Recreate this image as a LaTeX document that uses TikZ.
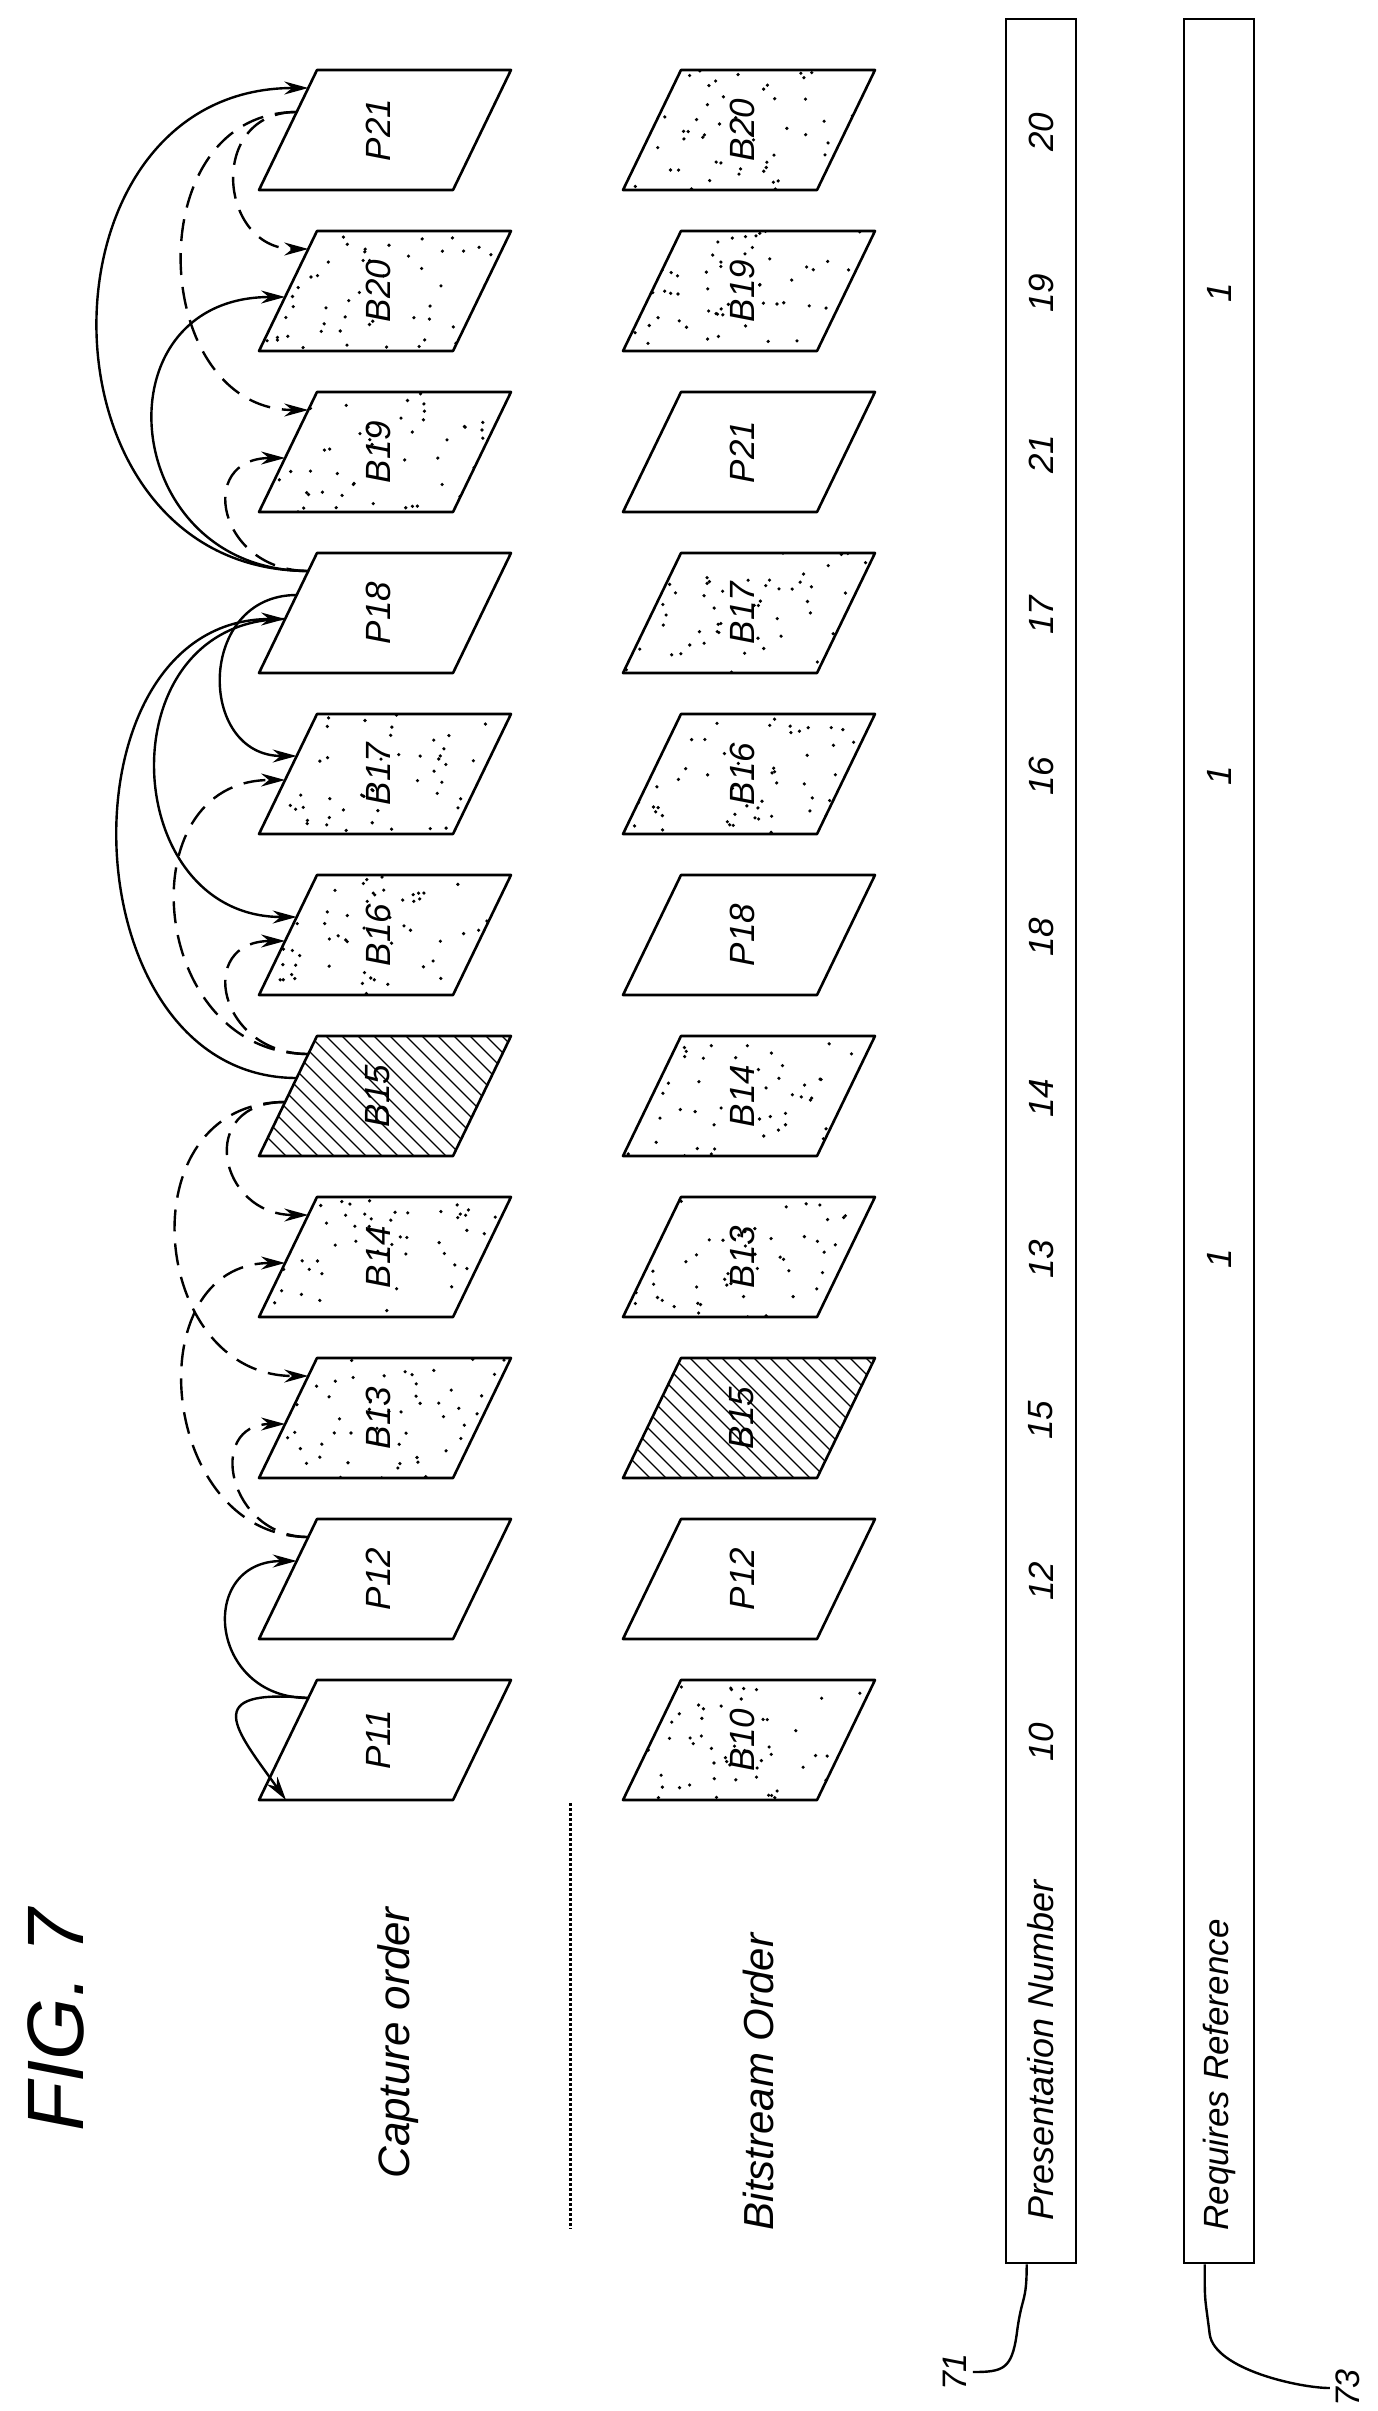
\documentclass[tikz,border=0pt]{standalone}
\usepackage{fontspec}
\setmainfont{Liberation Sans}
\usetikzlibrary{arrows.meta}
\begin{document}
\begin{tikzpicture}[x=1pt,y=-1pt,
  frm/.style={draw,line width=2.6pt,line join=round},
  lbl/.style={rotate=90,font=\fontsize{35}{37}\selectfont\itshape,inner sep=0pt},
  conn/.style={line width=2.4pt,-{Stealth[length=24pt,width=13pt]}},
  dconn/.style={conn,dash pattern=on 22pt off 12pt},
  boxs/.style={draw,line width=2.6pt}]
\useasboundingbox (0,0) rectangle (1378,2411);
\fill[white] (0,0) rectangle (1378,2411);
\pgfmathsetseed{7}
% frame macro: #1 name, #2 row, #3 x shift, #4 label, #5 kind (0 plain,1 stipple,2 hatch)
\newcommand\frm[5]{%
  \pgfmathsetmacro\T{70+161*#2}%
  \begin{scope}
  \clip (317+#3,\T) -- (511+#3,\T) -- (453+#3,\T+120) -- (259+#3,\T+120) -- cycle;
  \ifnum#5=1
    \foreach \k in {1,...,60}{\pgfmathsetmacro\rx{259+#3+252*rnd}\pgfmathsetmacro\ry{\T+120*rnd}
      \fill (\rx,\ry) circle (1.8pt);}
  \fi
  \ifnum#5=2
    \foreach \k in {-14,...,14}{\draw[line width=1.2pt] (380+#3+\k*16,\T-10) -- ++(150,150);}
  \fi
  \end{scope}
  \path[frm] (317+#3,\T) -- (511+#3,\T) -- (453+#3,\T+120) -- (259+#3,\T+120) -- cycle;
  \node[lbl] (#1) at (378+#3,\T+60) {#4};
  \coordinate (#1a) at (317+#3-58*0.15,\T+120*0.15);
  \coordinate (#1b) at (317+#3-58*0.35,\T+120*0.35);
  \coordinate (#1c) at (317+#3-58*0.55,\T+120*0.55);}
% capture order
\frm{P21}{0}{0}{P21}{0}
\frm{B20}{1}{0}{B20}{1}
\frm{B19}{2}{0}{B19}{1}
\frm{P18}{3}{0}{P18}{0}
\frm{B17}{4}{0}{B17}{1}
\frm{B16}{5}{0}{B16}{1}
\frm{B15}{6}{0}{B15}{2}
\frm{B14}{7}{0}{B14}{1}
\frm{B13}{8}{0}{B13}{1}
\frm{P12}{9}{0}{P12}{0}
\frm{P11}{10}{0}{P11}{0}
% bitstream order
\frm{xB20}{0}{364}{B20}{1}
\frm{xB19}{1}{364}{B19}{1}
\frm{xP21}{2}{364}{P21}{0}
\frm{xB17}{3}{364}{B17}{1}
\frm{xB16}{4}{364}{B16}{1}
\frm{xP18}{5}{364}{P18}{0}
\frm{xB14}{6}{364}{B14}{1}
\frm{xB13}{7}{364}{B13}{1}
\frm{xB15}{8}{364}{B15}{2}
\frm{xP12}{9}{364}{P12}{0}
\frm{xB10}{10}{364}{B10}{1}
% connectors
\coordinate (prev) at (286,1800);
\draw[conn] (P11a) .. controls +(-110,-10) and +(-50,-70) .. (prev);
\draw[conn] (P11a) .. controls +(-100,0) and +(-100,0) .. (P12b);
\draw[dconn] (P12a) .. controls +(-80,0) and +(-80,0) .. (B13c);
\draw[dconn] (P12a) .. controls +(-150,0) and +(-150,0) .. (B14c);
\draw[dconn] (B15c) .. controls +(-90,0) and +(-90,0) .. (B14a);
\draw[dconn] (B15c) .. controls +(-160,0) and +(-160,0) .. (B13a);
\draw[dconn] (B15a) .. controls +(-90,0) and +(-90,0) .. (B16c);
\draw[dconn] (B15a) .. controls +(-160,0) and +(-160,0) .. (B17c);
\draw[conn] (B15b) .. controls +(-230,0) and +(-230,0) .. (P18c);
\draw[conn] (P18b) .. controls +(-100,0) and +(-100,0) .. (B17b);
\draw[conn] (P18c) .. controls +(-180,0) and +(-180,0) .. (B16b);
\draw[dconn] (P18a) .. controls +(-90,0) and +(-90,0) .. (B19c);
\draw[conn] (P18a) .. controls +(-190,0) and +(-190,0) .. (B20c);
\draw[conn] (P18a) .. controls +(-280,0) and +(-280,0) .. (P21a);
\draw[dconn] (P21b) .. controls +(-90,0) and +(-90,0) .. (B20a);
\draw[dconn] (P21b) .. controls +(-160,0) and +(-160,0) .. (B19a);
% tables
\node[boxs,minimum width=70pt,minimum height=2244pt,inner sep=0pt] (pn) at (1041,1141) {};
\node[boxs,minimum width=70pt,minimum height=2244pt,inner sep=0pt] (rr) at (1219,1141) {};
\node[lbl,font=\fontsize{36}{38}\selectfont\itshape] (pnt) at (1041,2050) {Presentation Number};
\node[lbl,font=\fontsize{35}{37}\selectfont\itshape] (rrt) at (1219,2075) {Requires Reference};
\foreach \v [count=\i from 0] in {20,19,21,17,16,18,14,13,15,12,10}
  \node[lbl] (pv\i) at (1041,132+161*\i) {\v};
\foreach \i in {1,4,7}
  \node[lbl] (rv\i) at (1219,132+161*\i) {1};
% labels
\node[lbl,font=\fontsize{44}{46}\selectfont\itshape] (cap) at (398,2043) {Capture order};
\node[lbl,font=\fontsize{42}{44}\selectfont\itshape] (bit) at (758,2082) {Bitstream Order};
\node[lbl,font=\fontsize{80}{82}\selectfont\itshape] (fig) at (56,2020) {FIG. 7};
\coordinate (d1) at (570,1803);
\coordinate (d2) at (570,2229);
\draw[line width=3pt,dotted] (d1) -- (d2);
% reference numerals
\node[lbl,font=\fontsize{34}{36}\selectfont\itshape] (n71) at (955,2372) {71};
\node[lbl,font=\fontsize{34}{36}\selectfont\itshape] (n73) at (1348,2388) {73};
\draw[line width=2.4pt] (pn.west|-pn.south) ++(22,0) coordinate (l71)
  .. controls +(0,40) and +(5,-40) .. ++(-10,70) .. controls +(-5,35) and +(30,0) .. ([xshift=6pt]n71.south);
\draw[line width=2.4pt] (rr.west|-rr.south) ++(22,0) coordinate (l73)
  .. controls +(0,40) and +(-5,-40) .. ++(5,70) .. controls +(5,35) and +(-30,0) .. ([xshift=-6pt]n73.north);
\end{tikzpicture}
\end{document}
